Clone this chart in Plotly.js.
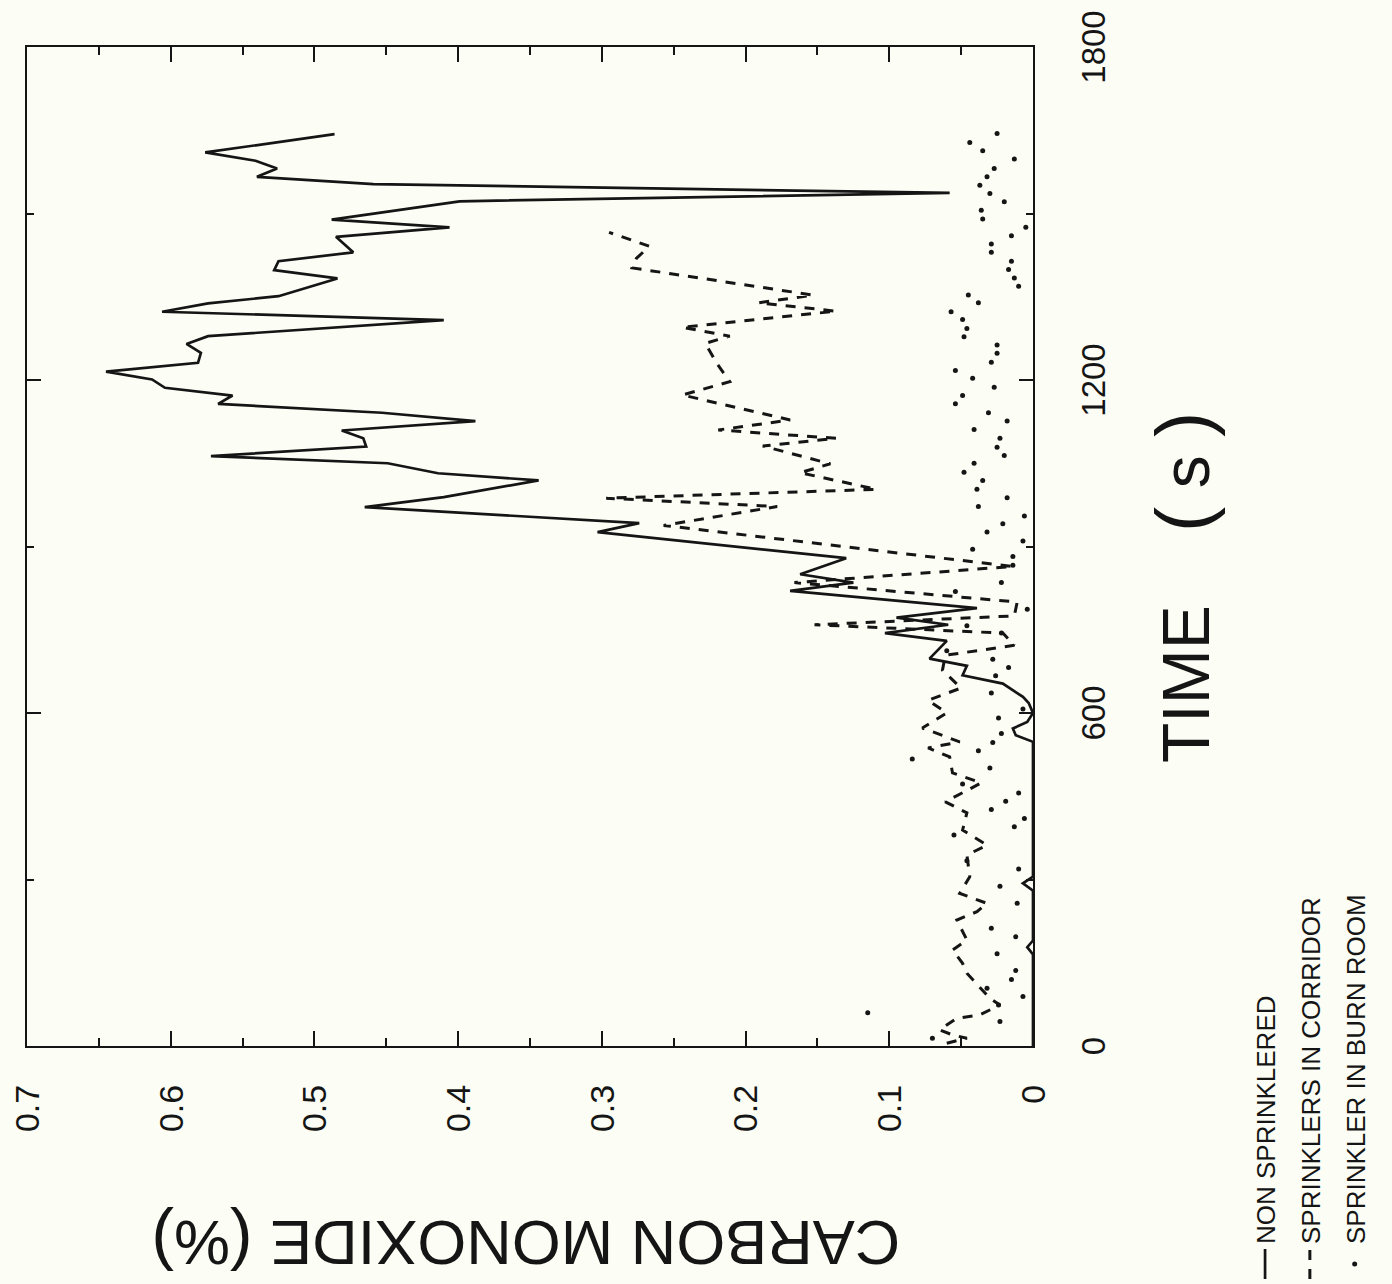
<!DOCTYPE html>
<html>
<head>
<meta charset="utf-8">
<script src="https://cdn.plot.ly/plotly-3.0.1.min.js"></script>
<style>
  html, body { margin: 0; padding: 0; background: #fcfdf4; overflow: hidden; }
  #page { width: 1392px; height: 1284px; position: relative; overflow: hidden; }
  /* the figure is laid out upright and then turned a quarter turn counter-clockwise */
  #chart {
    position: absolute; left: 0; top: 0;
    width: 1284px; height: 1392px;
    transform-origin: 0 0;
    transform: translate(0px, 1284px) rotate(-90deg);
  }
</style>
</head>
<body>
<div id="page"><div id="chart"></div></div>
<script>
// Carbon monoxide concentration (%) against time (s)

// Non sprinklered
const timeNonSprinklered = [0, 165, 178, 190, 280, 293, 305, 548, 560, 572, 584, 600, 618, 629, 653, 668, 685, 698, 730, 744, 759, 772, 789, 820, 835, 850, 879, 926, 942, 971, 989, 1019, 1032, 1050, 1063, 1080, 1095, 1109, 1126, 1141, 1157, 1172, 1186, 1201, 1215, 1231, 1249, 1265, 1279, 1308, 1323, 1338, 1351, 1383, 1398, 1414, 1430, 1458, 1475, 1489, 1522, 1537, 1553, 1566, 1581, 1595, 1610, 1643];
const coNonSprinklered = [0.000, 0.000, 0.004, 0.000, 0.000, 0.007, 0.000, 0.000, 0.012, 0.014, 0.004, 0.000, 0.003, 0.007, 0.021, 0.049, 0.046, 0.072, 0.060, 0.103, 0.059, 0.095, 0.039, 0.169, 0.125, 0.162, 0.130, 0.303, 0.274, 0.465, 0.410, 0.344, 0.414, 0.449, 0.572, 0.464, 0.466, 0.481, 0.388, 0.453, 0.567, 0.557, 0.604, 0.613, 0.645, 0.581, 0.579, 0.589, 0.574, 0.410, 0.606, 0.574, 0.525, 0.484, 0.528, 0.525, 0.473, 0.485, 0.406, 0.488, 0.399, 0.058, 0.459, 0.540, 0.526, 0.541, 0.576, 0.486];

// Sprinklers in corridor
const timeCorridor = [5, 14, 20, 29, 50, 56, 74, 86, 131, 149, 173, 191, 227, 242, 257, 275, 305, 344, 362, 389, 420, 440, 474, 492, 521, 537, 548, 573, 600, 623, 645, 677, 704, 722, 744, 759, 775, 800, 835, 864, 938, 972, 987, 1003, 1033, 1049, 1081, 1095, 1110, 1128, 1173, 1197, 1230, 1266, 1279, 1295, 1324, 1339, 1353, 1402, 1419, 1441, 1466];
const coCorridor = [0.060, 0.046, 0.056, 0.065, 0.053, 0.037, 0.023, 0.030, 0.046, 0.049, 0.056, 0.046, 0.053, 0.039, 0.032, 0.051, 0.044, 0.046, 0.032, 0.049, 0.046, 0.061, 0.036, 0.056, 0.058, 0.073, 0.051, 0.077, 0.060, 0.073, 0.050, 0.063, 0.061, 0.013, 0.021, 0.152, 0.013, 0.011, 0.166, 0.014, 0.257, 0.178, 0.297, 0.109, 0.162, 0.141, 0.188, 0.137, 0.219, 0.169, 0.244, 0.211, 0.220, 0.228, 0.211, 0.244, 0.137, 0.191, 0.153, 0.279, 0.276, 0.267, 0.295];

// Sprinkler in burn room
const timeBurnRoom = [14, 44, 60, 74, 89, 104, 120, 136, 166, 197, 212, 257, 288, 319, 334, 380, 395, 410, 426, 441, 456, 472, 501, 517, 532, 547, 563, 591, 607, 636, 667, 682, 697, 712, 744, 757, 787, 819, 835, 866, 882, 895, 910, 926, 941, 955, 972, 988, 1003, 1019, 1034, 1050, 1064, 1079, 1095, 1111, 1126, 1141, 1157, 1172, 1187, 1203, 1217, 1232, 1248, 1263, 1278, 1293, 1309, 1323, 1339, 1353, 1369, 1384, 1399, 1414, 1430, 1445, 1460, 1475, 1490, 1506, 1521, 1536, 1551, 1566, 1581, 1598, 1613, 1628, 1644];
const coBurnRoom = [0.070, 0.023, 0.115, 0.024, 0.007, 0.032, 0.015, 0.012, 0.025, 0.012, 0.029, 0.011, 0.023, 0.010, 0.046, 0.055, 0.013, 0.006, 0.029, 0.019, 0.010, 0.049, 0.030, 0.084, 0.038, 0.028, 0.022, 0.024, 0.007, 0.029, 0.026, 0.017, 0.028, 0.060, 0.022, 0.046, 0.004, 0.054, 0.022, 0.014, 0.014, 0.042, 0.007, 0.032, 0.021, 0.006, 0.038, 0.018, 0.039, 0.035, 0.048, 0.041, 0.020, 0.025, 0.023, 0.041, 0.018, 0.031, 0.054, 0.049, 0.027, 0.042, 0.054, 0.029, 0.025, 0.025, 0.048, 0.046, 0.049, 0.057, 0.038, 0.045, 0.010, 0.013, 0.017, 0.015, 0.029, 0.029, 0.015, 0.005, 0.035, 0.036, 0.020, 0.030, 0.037, 0.032, 0.027, 0.013, 0.035, 0.044, 0.025];

// Axis ticks
const timeTicks = [0, 600, 1200, 1800];
const timeMinorTicks = [300, 900, 1500];
const coTicks = [0, 0.1, 0.2, 0.3, 0.4, 0.5, 0.6, 0.7];
const coTickLabels = ['0', '0.1', '0.2', '0.3', '0.4', '0.5', '0.6', '0.7'];
const coMinorTicks = [0.05, 0.15, 0.25, 0.35, 0.45, 0.55, 0.65];

const ink = '#151515';
const bg = '#fcfdf4';
const fontFamily = 'Liberation Sans, Arial, sans-serif';
const nb = '\u00A0';

const traces = [
  {
    x: timeNonSprinklered, y: coNonSprinklered,
    type: 'scatter', mode: 'lines', name: 'NON SPRINKLERED',
    legendgroup: 'a',
    line: { color: ink, width: 2.7 }
  },
  {
    x: timeCorridor, y: coCorridor,
    type: 'scatter', mode: 'lines', name: 'SPRINKLERS IN CORRIDOR',
    legendgroup: 'b',
    line: { color: ink, width: 3, dash: '10px,9px' }
  },
  {
    x: timeBurnRoom, y: coBurnRoom,
    type: 'scatter', mode: 'markers', name: 'SPRINKLER IN BURN ROOM',
    legendgroup: 'c',
    marker: { color: ink, size: 5 }
  }
];

// parentheses in the axis titles are set a little larger than the letters
const paren = (s, px) => '<span style="font-size:' + px + 'px">' + s + '</span>';

const layout = {
  width: 1284,
  height: 1392,
  margin: { l: 238, r: 47, t: 27, b: 359, autoexpand: false },
  paper_bgcolor: bg,
  plot_bgcolor: bg,
  font: { family: fontFamily, color: ink },
  showlegend: true,
  legend: {
    xref: 'container', yref: 'container',
    x: 0.0, xanchor: 'left',
    y: 0.108, yanchor: 'top',
    bgcolor: 'rgba(0,0,0,0)',
    font: { size: 26, family: fontFamily, color: ink },
    tracegroupgap: 8,
    itemwidth: 30
  },
  xaxis: {
    range: [0, 1800],
    tickmode: 'array', tickvals: timeTicks, ticktext: timeTicks.map(String),
    ticks: 'inside', ticklen: 14, tickwidth: 2, tickcolor: ink,
    minor: { tickmode: 'array', tickvals: timeMinorTicks, ticks: 'inside', ticklen: 7, tickwidth: 2, tickcolor: ink },
    showline: true, linewidth: 2, linecolor: ink, mirror: 'ticks',
    showgrid: false, zeroline: false, automargin: false,
    tickfont: { size: 33, color: ink },
    ticklabelstandoff: 30
  },
  yaxis: {
    range: [0, 0.7],
    tickmode: 'array', tickvals: coTicks, ticktext: coTickLabels,
    ticks: 'inside', ticklen: 15, tickwidth: 2, tickcolor: ink,
    minor: { tickmode: 'array', tickvals: coMinorTicks, ticks: 'inside', ticklen: 8, tickwidth: 2, tickcolor: ink },
    showline: true, linewidth: 2, linecolor: ink, mirror: 'ticks',
    showgrid: false, zeroline: false, automargin: false,
    tickfont: { size: 34, color: ink },
    ticklabelstandoff: 30
  },
  annotations: [
    {
      text: 'TIME' + nb + nb + nb + nb + paren('(', 76) + nb + 's' + nb + paren(')', 76),
      xref: 'paper', yref: 'paper',
      x: 0.459, y: -0.149, xanchor: 'center', yanchor: 'middle',
      showarrow: false,
      font: { size: 66, color: ink, family: fontFamily }
    },
    {
      text: 'CARBON MONOXIDE ' + paren('(', 68) + '%' + paren(')', 68),
      xref: 'paper', yref: 'paper',
      x: -0.199, y: 0.504, xanchor: 'center', yanchor: 'middle',
      textangle: -90,
      showarrow: false,
      font: { size: 63, color: ink, family: fontFamily }
    }
  ]
};

Plotly.newPlot('chart', traces, layout, { displayModeBar: false, staticPlot: true });
</script>
</body>
</html>
